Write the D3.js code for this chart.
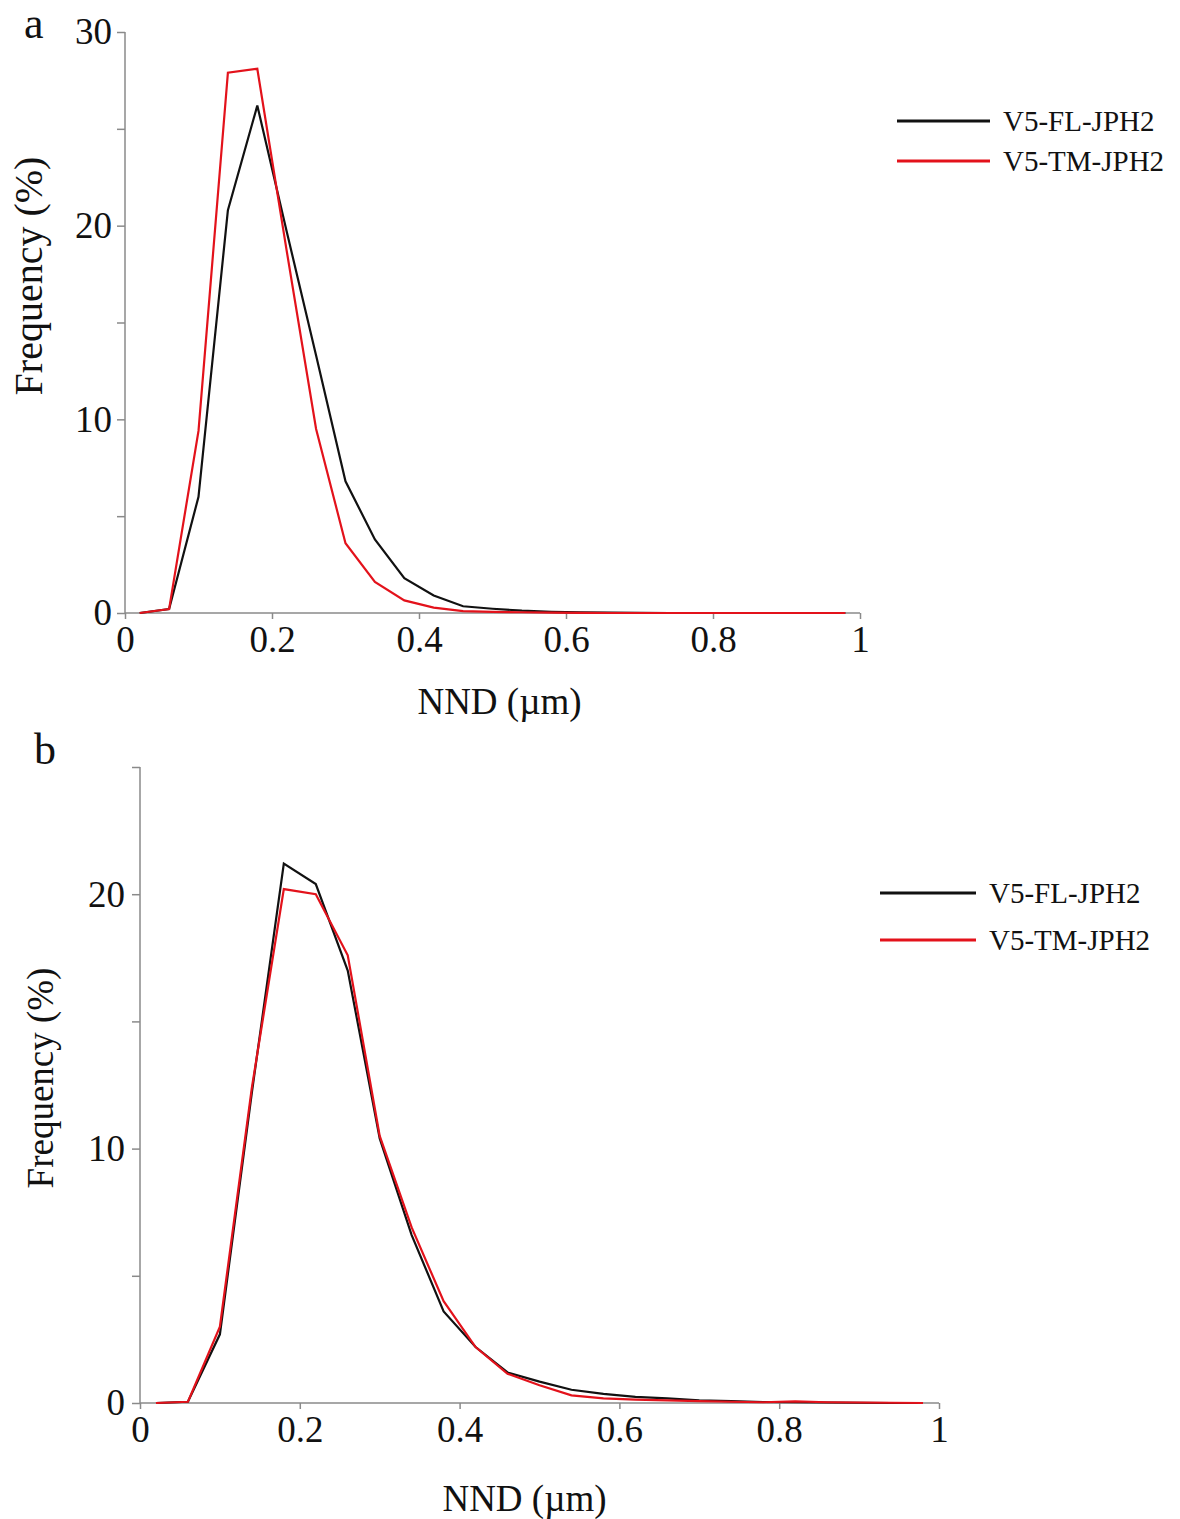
<!DOCTYPE html>
<html>
<head>
<meta charset="utf-8">
<script src="https://cdn.jsdelivr.net/npm/d3@7"></script>
<style>
  body { margin: 0; background: #fff; }
  text { font-family: "Liberation Serif", "DejaVu Serif", serif; fill: #111; }
</style>
</head>
<body>
<script>
const w = 1180;
const h = 1519;

// bin centres (NND, µm)
const nnd = [0.02, 0.06, 0.10, 0.14, 0.18, 0.22, 0.26, 0.30, 0.34, 0.38, 0.42, 0.46, 0.50,
             0.54, 0.58, 0.62, 0.66, 0.70, 0.74, 0.78, 0.82, 0.86, 0.90, 0.94, 0.98];

// panel a frequencies (%)
const aFL = [0, 0.2, 6.0, 20.8, 26.2, 19.7, 13.3, 6.8, 3.8, 1.8, 0.9, 0.35, 0.22,
             0.12, 0.06, 0.03, 0.02, 0.01, 0, 0, 0, 0, 0, 0, 0];
const aTM = [0, 0.2, 9.4, 27.9, 28.1, 18.7, 9.5, 3.6, 1.6, 0.65, 0.28, 0.1, 0.06,
             0.04, 0.02, 0.01, 0, 0, 0, 0, 0, 0, 0, 0, 0];

// panel b frequencies (%)
const bFL = [0, 0.05, 2.7, 12.2, 21.2, 20.4, 17.0, 10.4, 6.6, 3.6, 2.2, 1.2, 0.84,
             0.52, 0.36, 0.24, 0.18, 0.1, 0.07, 0.04, 0.03, 0.02, 0.01, 0, 0];
const bTM = [0, 0.05, 3.0, 12.4, 20.2, 20.0, 17.6, 10.5, 6.9, 4.0, 2.2, 1.15, 0.7,
             0.3, 0.18, 0.13, 0.1, 0.07, 0.05, 0.03, 0.06, 0.03, 0.02, 0.01, 0];

const seriesNames = ["V5-FL-JPH2", "V5-TM-JPH2"];
const seriesColors = ["#111111", "#e3121b"];
const xTicks = [0, 0.2, 0.4, 0.6, 0.8, 1];
const xLabel = "NND (\u00b5m)";
const yLabel = "Frequency (%)";

const svg = d3.select("body").append("svg")
  .attr("width", w)
  .attr("height", h);

function panel(cfg) {
  const x = d3.scaleLinear().domain([0, 1]).range([cfg.left, cfg.right]);
  const y = d3.scaleLinear().domain([0, cfg.yMax]).range([cfg.bottom, cfg.top]);
  const g = svg.append("g");

  const xAxis = d3.axisBottom(x)
    .tickValues(xTicks)
    .tickSize(6)
    .tickPadding(7)
    .tickFormat(d => (d === 0 || d === 1) ? String(d) : d.toFixed(1));
  const yAxis = d3.axisLeft(y)
    .tickValues(d3.range(0, cfg.yMax + 0.1, 5))
    .tickSize(8)
    .tickPadding(cfg.yPad)
    .tickFormat(d => d % 10 === 0 ? d : "");

  const gx = g.append("g")
    .attr("transform", "translate(0," + cfg.bottom + ")")
    .call(xAxis);
  const gy = g.append("g")
    .attr("transform", "translate(" + cfg.left + ",0)")
    .call(yAxis);

  [gx, gy].forEach(a => {
    a.selectAll("path").attr("stroke", "#8a8a8a").attr("stroke-width", 1.5);
    a.selectAll("line").attr("stroke", "#8a8a8a").attr("stroke-width", 1.5);
    a.selectAll("text").attr("font-size", cfg.tickFont)
      .attr("font-family", "Liberation Serif").attr("fill", "#111");
  });
  gx.select(".domain").attr("d", "M" + cfg.left + ",0H" + cfg.right);
  gy.select(".domain").attr("d", "M0," + cfg.bottom + "V" + cfg.top);

  const line = d3.line()
    .x((d, i) => x(nnd[i]))
    .y(d => y(d));

  cfg.data.forEach((vals, k) => {
    g.append("path")
      .datum(vals)
      .attr("fill", "none")
      .attr("stroke", seriesColors[k])
      .attr("stroke-width", 2.2)
      .attr("stroke-linejoin", "miter")
      .attr("d", line);
  });

  // labels
  g.append("text")
    .attr("x", cfg.letterX).attr("y", cfg.letterY)
    .attr("font-size", 44)
    .text(cfg.letter);

  g.append("text")
    .attr("x", (cfg.left + cfg.right) / 2 + cfg.xTitleShift)
    .attr("y", cfg.xTitleY)
    .attr("text-anchor", "middle")
    .attr("font-size", cfg.titleFont)
    .text(xLabel);

  g.append("text")
    .attr("transform", "translate(" + cfg.yTitleX + "," + cfg.yTitleY + ") rotate(-90)")
    .attr("text-anchor", "middle")
    .attr("font-size", cfg.yTitleFont)
    .text(yLabel);

  // legend
  seriesNames.forEach((name, k) => {
    const ly = cfg.legY + k * cfg.legGap;
    g.append("line")
      .attr("x1", cfg.legX1).attr("x2", cfg.legX2)
      .attr("y1", ly).attr("y2", ly)
      .attr("stroke", seriesColors[k])
      .attr("stroke-width", 3);
    g.append("text")
      .attr("x", cfg.legX2 + 13)
      .attr("y", ly)
      .attr("dy", "0.35em")
      .attr("font-size", cfg.legFont)
      .text(name);
  });
}

panel({
  left: 125, right: 860, top: 32, bottom: 613, yMax: 30, yPad: 5,
  data: [aFL, aTM], letter: "a", letterX: 24, letterY: 38,
  tickFont: 37, titleFont: 37, yTitleFont: 40,
  xTitleY: 714, xTitleShift: 7, yTitleX: 42, yTitleY: 276,
  legX1: 897, legX2: 990, legY: 121, legGap: 40, legFont: 29
});

panel({
  left: 140, right: 939, top: 767, bottom: 1403, yMax: 25, yPad: 7,
  data: [bFL, bTM], letter: "b", letterX: 34, letterY: 764,
  tickFont: 37, titleFont: 37, yTitleFont: 37,
  xTitleY: 1511, xTitleShift: -15, yTitleX: 53, yTitleY: 1078,
  legX1: 880, legX2: 976, legY: 893, legGap: 47, legFont: 29
});
</script>
</body>
</html>
